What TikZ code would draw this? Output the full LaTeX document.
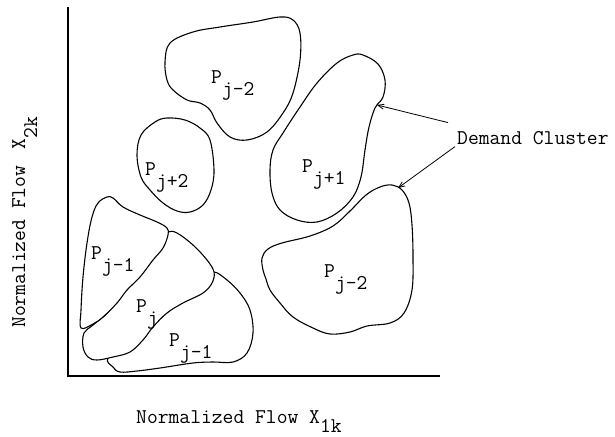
\documentclass[tikz,border=0pt]{standalone}
\usepackage{fontspec}
\usetikzlibrary{arrows.meta,calc}
\newcommand{\lowr}[1]{\raisebox{-12pt}{#1}}

\begin{document}
\begin{tikzpicture}[x=1pt, y=-1pt,
  blob/.style={draw, fill=white, line width=1.1pt, line join=round},
  lbl/.style={font={\ttfamily\fontsize{21}{24}\selectfont}, anchor=base west, inner sep=0pt},
  pointer/.style={-{Straight Barb[length=6pt,width=5pt]}, line width=0.8pt}]
  \useasboundingbox[fill=white] (0,0) rectangle (615,436);
  % Axes
  \draw[line width=1.8pt] (68,7) -- (68,376) -- (440,376);
  % Clusters, back to front
  \draw[blob] plot[smooth cycle, tension=0.6] coordinates {
    (170,43) (193,32) (220,27) (253,22) (280,17) (293,20) (300,33) (300,60)
    (293,93) (283,113) (267,132) (247,140) (230,137) (217,123) (210,110)
    (200,103) (187,100) (173,90) (167,80) (165,62)};
  \draw[blob] plot[smooth cycle, tension=0.6] coordinates {
    (155,122) (167,118) (185,120) (200,128) (210,140) (214,170) (211,190)
    (203,205) (190,212) (177,211) (163,203) (150,190) (141,177) (137,155) (141,135)};
  \draw[blob] plot[smooth cycle, tension=0.6] coordinates {
    (353,55) (363,55) (378,64) (385,80) (383,97) (375,108) (369,127) (365,150)
    (361,177) (353,197) (337,213) (317,222) (297,220) (280,210) (272,193)
    (270,170) (273,150) (283,133) (300,107) (317,83) (337,63)};
  \draw[blob] plot[smooth cycle, tension=0.6] coordinates {
    (380,187) (392,185) (402,190) (409,203) (412,225) (413,257) (412,290)
    (404,313) (390,323) (367,326) (350,332) (330,334) (313,328) (293,317)
    (280,303) (270,290) (266,279) (263,270) (262,258) (268,249) (282,243)
    (310,236) (333,226) (350,211) (366,195)};
  % overlapping group in the corner
  \draw[blob] plot[smooth cycle, tension=0.6] coordinates {
    (214,272) (227,280) (240,293) (250,310) (253,333) (247,353) (233,362)
    (213,362) (193,363) (160,368) (137,371) (120,372) (113,367) (108,358)
    (130,340) (160,315) (190,295) (207,280)};
  \draw[blob] plot[smooth cycle, tension=0.6] coordinates {
    (168,232) (177,233) (193,245) (207,260) (214,272) (212,283) (203,293)
    (183,303) (167,313) (153,327) (143,340) (130,352) (113,357) (97,360)
    (88,357) (83,347) (84,333) (93,325) (110,310) (130,280) (150,255) (162,240)};
  \draw[blob] plot[smooth cycle, tension=0.6] coordinates {
    (107,197) (113,198) (123,207) (140,215) (157,222) (167,228) (168,235)
    (163,248) (153,260) (140,277) (127,290) (117,303) (103,317) (93,324)
    (81,328) (81,310) (83,277) (87,243) (92,217) (98,203)};
  % Cluster labels
  \foreach \nm/\px/\py/\s in {jmTwoA/211/83/j-2, jpTwo/145/175/j+2, jpOne/302/172/j+1,
    jmTwoB/324/277/j-2, jmOneA/91/259/j-1, jZero/136/312/j, jmOneB/169/346/j-1}
    \node[lbl] (\nm) at (\px,\py) {P\lowr{\s}};
  % Pointer text
  \node[lbl] (dc) at (457,144) {Demand Cluster};
  \coordinate (tipA) at (377,105);
  \coordinate (tipB) at (398,188);
  \draw[pointer] ([shift={(-9,-15)}]dc.west) -- (tipA);
  \draw[pointer] ([shift={(-2,9)}]dc.west) -- (tipB);
  % Axis labels
  \node[lbl] (xlab) at (136,423) {Normalized Flow X\raisebox{-9pt}{1k}};
  \node[lbl, rotate=90] (ylab) at (25,328) {Normalized Flow\hspace{16pt}X\lowr{2k}};
\end{tikzpicture}
\end{document}
